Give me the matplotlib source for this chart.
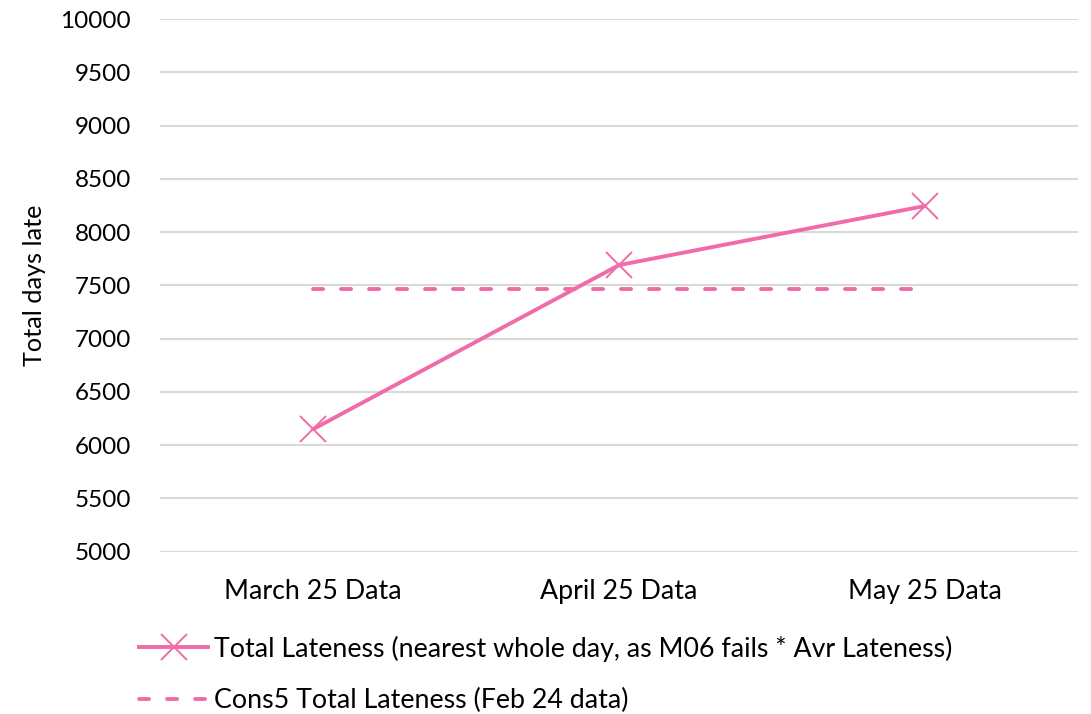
import matplotlib
matplotlib.use("Agg")
import matplotlib.pyplot as plt
from matplotlib.lines import Line2D

categories = ["March 25 Data", "April 25 Data", "May 25 Data"]
total_lateness = [6150, 7690, 8245]
cons5_lateness = [7463, 7463, 7463]
series_labels = [
    "Total Lateness (nearest whole day, as M06 fails * Avr Lateness)",
    "Cons5 Total Lateness (Feb 24 data)",
]
y_ticks = list(range(5000, 10001, 500))

pink = "#F06CA8"
grid = "#D9D9D9"
plt.rcParams["font.family"] = ["Lato", "DejaVu Sans"]
fs_tick = 17.5
fs_cat = 19.3
fs_leg = 19.3
fs_ylab = 18.2
lw = 2.8
dash = (0, (2.6, 4.6))

fig = plt.figure(figsize=(10.91, 7.14), dpi=100)
ax = fig.add_axes([160 / 1091, 1 - 551.7 / 714, (1078 - 160) / 1091, (551.7 - 19) / 714])

x = list(range(len(categories)))
ax.plot(x, total_lateness, color=pink, lw=lw, marker="x", ms=19, mew=1.4,
        solid_capstyle="round", zorder=3)
ax.plot(x, cons5_lateness, color=pink, lw=lw, ls=dash, dash_capstyle="round", zorder=3)

ax.set_xlim(-0.5, len(categories) - 0.5)
ax.set_ylim(5000, 10000)
ax.set_yticks(y_ticks)
ax.set_xticks(x)
ax.set_xticklabels(categories, fontsize=fs_cat)
ax.yaxis.grid(True, color=grid, lw=1.5)
ax.set_axisbelow(True)
for s in ax.spines.values():
    s.set_visible(False)
ax.tick_params(length=0, colors="black")
ax.tick_params(axis="y", pad=21, labelsize=fs_tick)
ax.tick_params(axis="x", pad=20)
ax.set_ylabel("Total days late", fontsize=fs_ylab, labelpad=10)

handles = [
    Line2D([], [], color=pink, lw=lw, marker="x", ms=19, mew=1.4),
    Line2D([], [], color=pink, lw=lw, ls=dash, dash_capstyle="round"),
]
fig.legend(handles, series_labels, loc="upper left", bbox_to_anchor=(128 / 1091, 1 - 625 / 714),
           frameon=False, fontsize=fs_leg, handlelength=2.6, handletextpad=0.2,
           labelspacing=0.98, borderaxespad=0)

fig.savefig("out.png", dpi=100)
